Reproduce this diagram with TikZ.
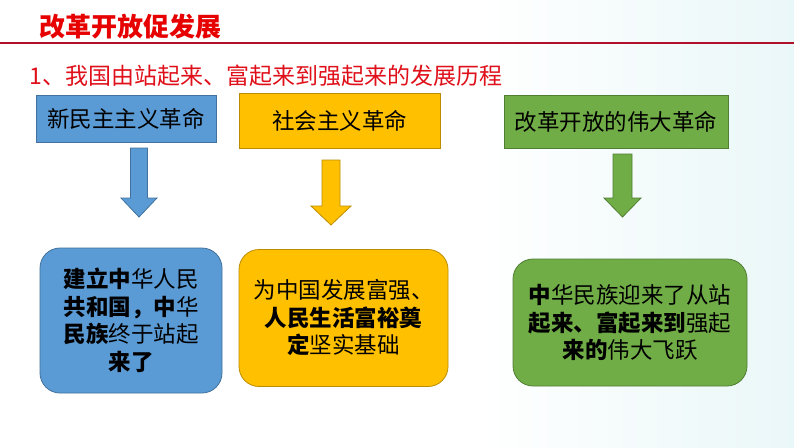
\documentclass[tikz,border=0pt]{standalone}
\usepackage{fontspec}
\setmainfont{Noto Sans CJK SC}
\definecolor{blueF}{HTML}{5B9BD5}
\definecolor{blueD}{HTML}{41719C}
\definecolor{yelF}{HTML}{FFC000}
\definecolor{yelD}{HTML}{BC8C00}
\definecolor{grnF}{HTML}{70AD47}
\definecolor{grnD}{HTML}{507E32}
\definecolor{titleRed}{HTML}{E60000}
\definecolor{subRed}{HTML}{E0101A}
\definecolor{lineRed}{HTML}{B0102A}
\definecolor{bgCyan}{HTML}{EAF7F8}
\tikzset{
  topbox/.style={draw, line width=0.8pt, rectangle, inner sep=0pt, font=\fontsize{22.5}{27}\selectfont, text=black},
  botbox/.style={draw, line width=0.8pt, rectangle, rounded corners=20pt, inner sep=0pt, align=center, font=\fontsize{22.5}{27.5}\selectfont, text=black},
  blockarrow/.style={line width=0.8pt}
}
\newcommand{\blkarrow}[8]{%
  \filldraw[blockarrow, fill=#7, draw=#8]
    (#1-#5,#2) -- (#1+#5,#2) -- (#1+#5,#3) -- (#1+#6,#3) -- (#1,#4)
    -- (#1-#6,#3) -- (#1-#5,#3) -- cycle;}
\begin{document}
\begin{tikzpicture}[x=1pt,y=-1pt]
  \useasboundingbox (0,0) rectangle (794,447);
  \fill[white] (0,0) rectangle (794,447);
  \shade[left color=white, right color=bgCyan] (480,0) rectangle (794,447);
  % title
  \node[anchor=west, text=titleRed, font=\fontsize{26}{30}\bfseries] (title) at (36,27) {改革开放促发展};
  \draw[lineRed, line width=1.4pt] (0,43) -- (794,43);
  \node[anchor=west, text=subRed, font=\fontsize{23}{27}\selectfont] (sub) at (26,76) {1、我国由站起来、富起来到强起来的发展历程};
  % top boxes
  \node[topbox, fill=blueF, draw=blueD, minimum width=180pt, minimum height=47pt] (t1) at (126,118.5) {新民主主义革命};
  \node[topbox, fill=yelF, draw=yelD, minimum width=201pt, minimum height=55pt] (t2) at (339.5,120.5) {社会主义革命};
  \node[topbox, fill=grnF, draw=grnD, minimum width=224pt, minimum height=53pt] (t3) at (616,121.5) {改革开放的伟大革命};
  % arrows
  \blkarrow{139}{148}{198}{217}{8.5}{18}{blueF}{blueD}
  \blkarrow{331}{160}{206}{225}{9}{20}{yelF}{yelD}
  \blkarrow{622.5}{154}{198}{217}{9.5}{18.5}{grnF}{grnD}
  % bottom boxes
  \node[botbox, fill=blueF, draw=blueD, minimum width=182pt, minimum height=145pt] (b1) at (131,320.5)
    {\textbf{建立中}华人民\\\textbf{共和国，中}华\\\textbf{民族}终于站起\\\textbf{来了}};
  \node[botbox, fill=yelF, draw=yelD, minimum width=209pt, minimum height=137pt] (b2) at (343.5,318)
    {为中国发展富强、\\\textbf{人民生活富裕奠}\\\textbf{定}坚实基础};
  \node[botbox, fill=grnF, draw=grnD, minimum width=234pt, minimum height=127pt] (b3) at (630,322.5)
    {\textbf{中}华民族迎来了从站\\\textbf{起来、富起来到}强起\\\textbf{来的}伟大飞跃};
\end{tikzpicture}
\end{document}
